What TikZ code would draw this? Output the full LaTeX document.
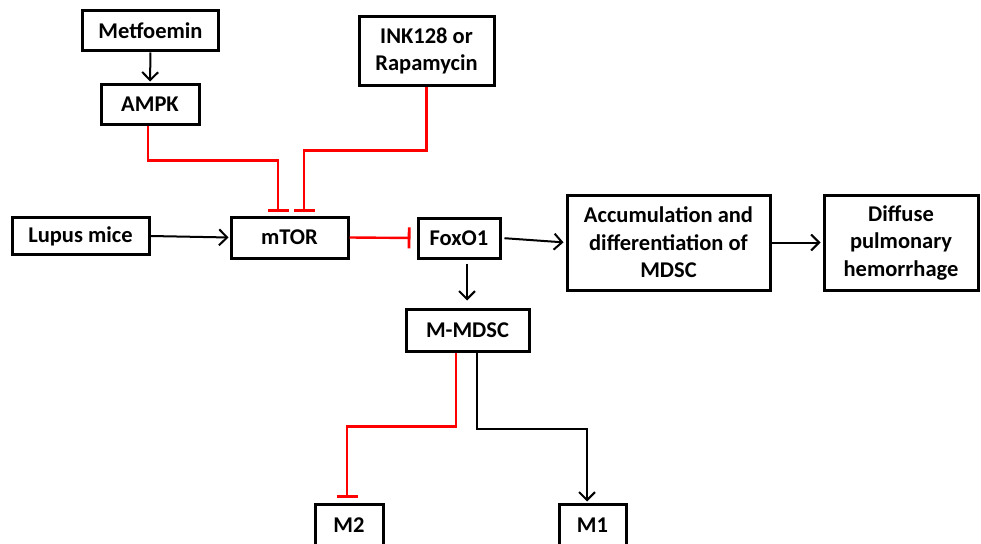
\documentclass[tikz,border=0pt]{standalone}
\usepackage{fontspec}
\setmainfont{Carlito}
\usetikzlibrary{arrows.meta}
\begin{document}
\begin{tikzpicture}[x=1pt,y=-1pt,
  box/.style={draw=black,line width=3pt,minimum width=#1,inner sep=0pt,font=\fontsize{22.5}{27.5}\selectfont\bfseries,align=center},
  act/.style={draw=black,line width=2pt,-{Straight Barb[length=8pt,width=16pt,line width=2pt]}},
  inh/.style={draw=red,line width=2.4pt,-{Bar[width=21pt,line width=2.8pt]}}]
\useasboundingbox (0,0) rectangle (981,543);
\clip (0,0) rectangle (981,543);
\node[box=136pt,minimum height=40pt] (met) at (150.5,31) {Metfoemin};
\node[box=98pt,minimum height=40pt] (ampk) at (150,104) {AMPK};
\node[box=135pt,minimum height=68pt] (ink) at (426.5,51) {INK128 or\\Rapamycin};
\node[box=137pt,minimum height=37pt] (lupus) at (80.5,236) {Lupus mice};
\node[box=117pt,minimum height=41pt] (mtor) at (289.5,237.5) {mTOR};
\node[box=82pt,minimum height=40pt] (foxo) at (459,238) {FoxO1};
\node[box=203pt,minimum height=95pt] (acc) at (668.5,242.5) {Accumulation and\\differentiation of\\MDSC};
\node[box=154pt,minimum height=95pt] (dif) at (901,242.5) {Diffuse\\pulmonary\\hemorrhage};
\node[box=123pt,minimum height=42pt] (mm) at (467.5,330) {M-MDSC};
\node[box=68pt,minimum height=42pt] (m2) at (349,525) {M2};
\node[box=67pt,minimum height=42pt] (m1) at (592.5,525) {M1};

\draw[act,shorten >=1pt] (met.south) -- (ampk.north);
\draw[inh,shorten >=4pt] ([xshift=-2pt]ampk.south) -- ++(0,35) -| ([xshift=-11.5pt]mtor.north);
\draw[inh,shorten >=4pt] (ink.south) -- ++(0,64) -| ([xshift=14.5pt]mtor.north);
\draw[act,shorten >=1pt] (lupus.east) -- (mtor.west);
\draw[inh,shorten >=6pt] (mtor.east) -- (foxo.west);
\draw[act,shorten <=3pt,shorten >=2pt] (foxo.east) -- (acc.west);
\draw[act,shorten >=2pt] (acc.east) -- (dif.west);
\draw[act,shorten <=4pt,shorten >=7pt] ([xshift=8pt]foxo.south) -- ([xshift=-0.5pt]mm.north);
\draw[inh,shorten >=5pt] ([xshift=-11.5pt]mm.south) -- ++(0,74) -| ([xshift=-2pt]m2.north);
\draw[act,shorten >=1pt] ([xshift=9.5pt]mm.south) -- ++(0,76) -| ([xshift=-5.5pt]m1.north);
\end{tikzpicture}
\end{document}
